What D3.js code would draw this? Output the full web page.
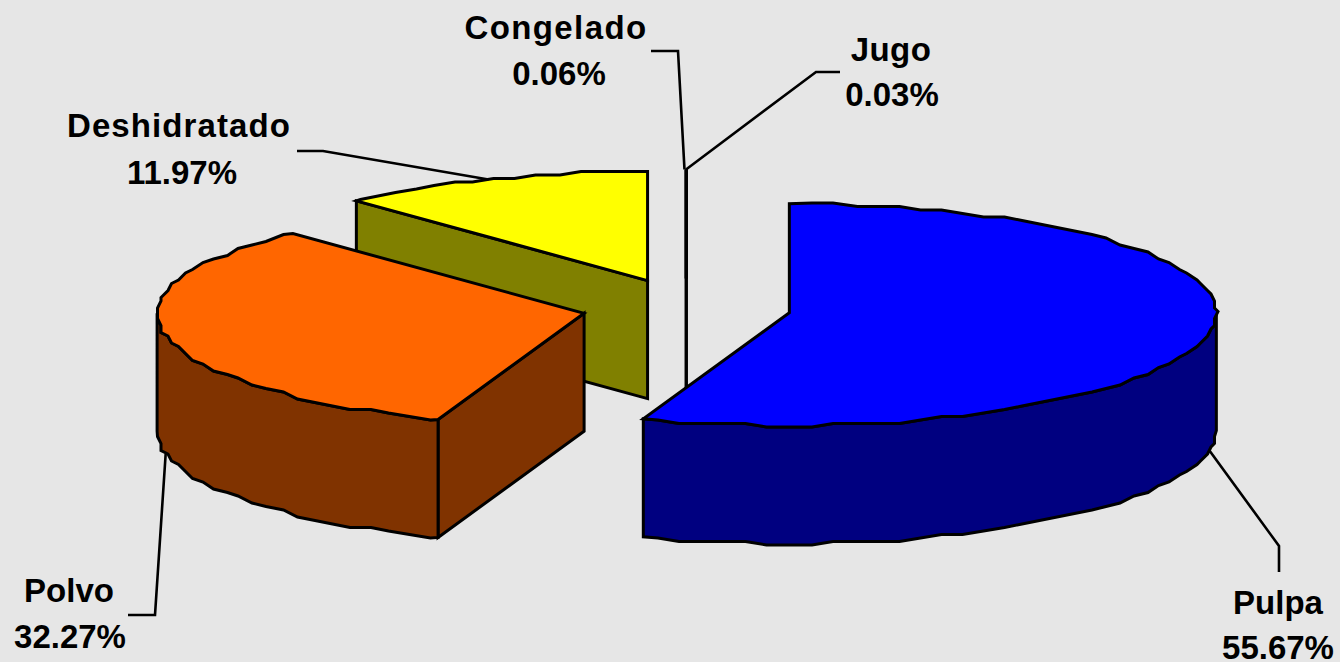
<!DOCTYPE html>
<html>
<head>
<meta charset="utf-8">
<script src="https://cdn.jsdelivr.net/npm/d3@7/dist/d3.min.js"></script>
<style>
  html, body { margin: 0; padding: 0; background: #e6e6e6; overflow: hidden; }
  svg { display: block; }
  text { font-family: "Liberation Sans", Arial, sans-serif; font-weight: bold; font-size: 33px; fill: #000; text-anchor: middle; }
</style>
</head>
<body>
<svg id="chart"></svg>
<script>
var categories = ["Pulpa", "Polvo", "Deshidratado", "Congelado", "Jugo"];
var shares = [55.67, 32.27, 11.97, 0.06, 0.03];
var shareLabels = ["55.67%", "32.27%", "11.97%", "0.06%", "0.03%"];
var topColors = ["#0000ff", "#ff6600", "#ffff00", "#00ff00", "#ff00ff"];

// label placement, same order as categories
var nameX = [1278, 69, 179, 556, 891];
var nameY = [614, 602, 137, 39, 61];
var shareX = [1278, 70, 182, 559, 892];
var shareY = [659, 648, 184, 85, 106];
var nameSpacing = [0, 0, 1.1, 1.4, 0.4];
var leaderElbows = [
  [[1279, 546], [1279, 572]],
  [[155, 615], [128, 615]],
  [[323, 151], [297, 151]],
  [[678, 51], [651, 51]],
  [[816, 72], [840, 72]]
];

var w = 1340;
var h = 662;
var cx = 686.5;
var cy = 307.5;
var rx = 427;
var ryBack = 109;
var ryFront = 113;
var depth = 118;
var explodeX = 104.5;
var explodeY = 29;
var grid = 3.5;      // the rim of the original is coarse, snap it
var stepDeg = 3;

var svg = d3.select("#chart").attr("width", w).attr("height", h);
svg.append("rect").attr("width", w).attr("height", h).attr("fill", "#e6e6e6");

var pie = d3.pie().sort(null).value(function(d) { return d; });
var degree = Math.PI / 180;
var slices = pie(shares).map(function(s, i) {
  var mid = (s.startAngle + s.endAngle) / 2;
  return {
    i: i,
    // corners sit on whole degrees in the original too
    a0: Math.round(s.startAngle / degree) * degree,
    a1: Math.round(s.endAngle / degree) * degree,
    mid: mid,
    ax: cx + explodeX * Math.sin(mid),
    ay: cy - explodeY * Math.cos(mid)
  };
});

function snap(v) { return Math.round(v / grid) * grid; }

function rimPoint(s, a, drop) {
  var c = Math.cos(a);
  return [s.ax + rx * Math.sin(a), s.ay - (c < 0 ? ryFront : ryBack) * c + drop];
}

// points along the rim between two angles, corners kept exact
function rim(s, from, to, drop) {
  var pts = [rimPoint(s, from, drop)];
  var step = stepDeg * degree;
  var a = Math.ceil(from / step + 0.001) * step;
  for (; a < to - 0.001; a += step) {
    var p = rimPoint(s, a, 0);
    pts.push([snap(p[0]), snap(p[1]) + drop]);
  }
  pts.push(rimPoint(s, to, drop));
  return pts;
}

var leaderLine = d3.line();
var facePath = d3.line().curve(d3.curveLinearClosed);

function face(g, pts, fill) {
  g.append("path")
    .attr("d", facePath(pts))
    .attr("fill", fill)
    .attr("stroke", "#000")
    .attr("stroke-width", 3)
    .attr("stroke-linejoin", "miter");
}

// back slices first, Pulpa goes on top of everything
slices.slice().reverse().forEach(function(s) {
  var g = svg.append("g").attr("class", "slice");
  var side = d3.rgb(topColors[s.i]);
  side = d3.rgb(side.r * 0.5, side.g * 0.5, side.b * 0.5).formatHex();

  // the cut face at the start angle looks at the viewer on the left half
  if (s.a0 > Math.PI) {
    var p0 = rimPoint(s, s.a0, 0);
    face(g, [[s.ax, s.ay], p0, [p0[0], p0[1] + depth], [s.ax, s.ay + depth]], side);
  }

  // outer wall, only the front half can be seen
  var w0 = Math.max(s.a0, Math.PI / 2);
  var w1 = Math.min(s.a1, 3 * Math.PI / 2);
  if (w1 > w0) {
    var upper = rim(s, w0, w1, 0);
    var lower = rim(s, w0, w1, depth).reverse();
    face(g, upper.concat(lower), side);
  }

  face(g, [[s.ax, s.ay]].concat(rim(s, s.a0, s.a1, 0)), topColors[s.i]);
});

// leader lines start at the middle of each slice rim
slices.forEach(function(s) {
  var start = rimPoint(s, s.mid, Math.cos(s.mid) < 0 ? depth : 0);
  svg.append("path")
    .attr("d", leaderLine([start].concat(leaderElbows[s.i])))
    .attr("fill", "none")
    .attr("stroke", "#000")
    .attr("stroke-width", 2.6);
});

svg.selectAll("text.name")
  .data(categories)
  .enter()
  .append("text")
  .attr("class", "name")
  .attr("x", function(d, i) { return nameX[i]; })
  .attr("y", function(d, i) { return nameY[i]; })
  .style("letter-spacing", function(d, i) { return nameSpacing[i] + "px"; })
  .text(function(d) { return d; });

svg.selectAll("text.share")
  .data(shareLabels)
  .enter()
  .append("text")
  .attr("class", "share")
  .attr("x", function(d, i) { return shareX[i]; })
  .attr("y", function(d, i) { return shareY[i]; })
  .text(function(d) { return d; });
</script>
</body>
</html>
